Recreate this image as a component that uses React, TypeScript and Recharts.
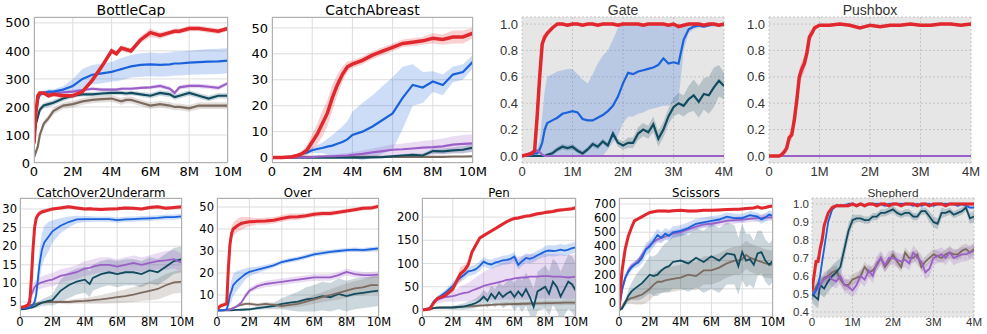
import { ComposedChart, Area, Line, XAxis, YAxis, CartesianGrid } from "recharts";

const RED = "#e0282e";
const BLUE = "#1a62dc";
const PURPLE = "#9b5fc8";
const TEAL = "#114b5f";
const BROWN = "#7d6a5e";

// ---------- BottleCap ----------
const bcX = [0, 0.1, 0.2, 0.3, 0.5, 0.75, 1, 1.5, 2, 2.5, 3, 3.5, 4, 4.25, 4.5, 4.75, 5, 5.5, 6, 6.5, 7, 7.25, 7.5, 8, 8.5, 9, 9.5, 10];
const bcRed = [70, 180, 240, 250, 250, 240, 245, 240, 240, 255, 295, 345, 400, 390, 410, 405, 400, 440, 465, 455, 465, 470, 470, 480, 480, 475, 470, 480];
const bcRedSd = [10, 20, 15, 8, 8, 8, 8, 8, 8, 8, 8, 10, 10, 10, 10, 10, 10, 12, 15, 12, 10, 10, 10, 10, 10, 10, 10, 8];
const bcBlue = [110, 180, 225, 245, 250, 255, 255, 262, 275, 300, 315, 320, 325, 330, 335, 340, 345, 350, 352, 350, 352, 355, 355, 358, 360, 362, 363, 365];
const bcBlueSd = [15, 20, 15, 10, 8, 8, 8, 12, 25, 35, 35, 35, 35, 38, 40, 40, 40, 42, 42, 42, 42, 43, 43, 43, 44, 45, 45, 45];
const bcPurple = [100, 180, 230, 245, 250, 250, 250, 252, 255, 260, 265, 262, 262, 262, 265, 265, 265, 268, 270, 275, 265, 250, 270, 275, 275, 272, 268, 285];
const bcPurpleSd = [10, 15, 10, 6, 6, 6, 6, 6, 6, 6, 6, 6, 6, 6, 6, 6, 6, 6, 6, 8, 8, 8, 8, 8, 8, 8, 8, 8];
const bcTeal = [90, 140, 165, 190, 205, 210, 215, 230, 240, 245, 245, 248, 250, 250, 250, 248, 250, 245, 240, 250, 245, 235, 240, 250, 240, 230, 240, 240];
const bcTealSd = [10, 10, 10, 10, 10, 10, 10, 10, 8, 8, 8, 8, 8, 8, 8, 8, 8, 8, 10, 10, 10, 10, 10, 10, 10, 10, 10, 10];
const bcBrown = [20, 40, 60, 100, 140, 160, 185, 205, 210, 220, 225, 228, 230, 225, 220, 225, 225, 215, 205, 210, 205, 200, 200, 195, 205, 205, 205, 205];
const bcBrownSd = [10, 10, 10, 12, 12, 12, 12, 12, 12, 12, 12, 12, 12, 12, 12, 12, 12, 12, 12, 12, 12, 12, 12, 12, 12, 12, 12, 12];

// ---------- CatchAbreast ----------
const caX = [0, 0.5, 1, 1.25, 1.5, 1.75, 2, 2.25, 2.5, 2.75, 3, 3.25, 3.5, 3.75, 4, 4.5, 5, 5.5, 6, 6.5, 7, 7.5, 8, 8.5, 9, 9.5, 10];
const caRed = [0, 0, 0.3, 0.8, 1.5, 3, 6, 9, 13, 17, 23, 28, 32, 35, 36, 37.5, 39.5, 41, 42.5, 44, 44.5, 45, 46, 45.5, 46.5, 46.5, 48];
const caRedSd = [0, 0, 0.2, 0.5, 1, 2, 3, 4, 5, 5, 5, 4, 3, 2, 1.5, 1.5, 1.5, 1.5, 1.5, 1.5, 1.5, 1.5, 2, 2, 2.5, 2.5, 2];
const caBlue = [0, 0, 0.3, 0.8, 1.5, 2, 2.8, 3.3, 3.7, 4.2, 4.6, 5.3, 6, 7, 8.7, 10, 12, 14.5, 17, 23, 28, 27, 29.3, 28, 32, 33, 37];
const caBlueSd = [0, 0, 0.2, 0.4, 0.6, 0.8, 1, 1.5, 2, 3, 4, 5, 6, 7, 9, 11, 12, 13, 14, 12, 8, 6, 4, 4, 3, 3, 2.5];
const caPurple = [0, 0, 0, 0.1, 0.1, 0.1, 0.2, 0.3, 0.4, 0.5, 0.5, 0.6, 0.7, 0.8, 1, 1.4, 2, 2.5, 3, 3.2, 3.5, 3.8, 4, 4.3, 5, 5.3, 5.5];
const caPurpleSd = [0, 0, 0, 0.1, 0.1, 0.2, 0.3, 0.4, 0.5, 0.6, 0.7, 0.8, 0.9, 1, 1.1, 1.3, 1.5, 1.8, 2, 2.2, 2.4, 2.6, 2.8, 3, 3.2, 3.4, 3.5];
const caTeal = [0, 0, 0, 0, 0, 0, 0, 0, 0, 0, 0, 0, 0, 0, 0, 0, 0.1, 0.2, 0.5, 0.8, 1, 0.8, 2.5, 2.4, 2.8, 3, 3.8];
const caTealSd = [0, 0, 0, 0, 0, 0, 0, 0, 0, 0, 0, 0, 0, 0, 0.1, 0.2, 0.3, 0.4, 0.5, 0.6, 0.7, 0.8, 1, 1.1, 1.2, 1.4, 1.5];
const caBrown = [0, 0.1, 0.3, 0.3, 0.3, 0.3, 0.3, 0.3, 0.3, 0.3, 0.3, 0.3, 0.3, 0.3, 0.3, 0.3, 0.3, 0.3, 0.3, 0.3, 0.3, 0.3, 0.3, 0.3, 0.4, 0.4, 0.5];
const caBrownSd = [0.1, 0.1, 0.1, 0.1, 0.1, 0.1, 0.1, 0.1, 0.1, 0.1, 0.1, 0.1, 0.1, 0.1, 0.1, 0.1, 0.1, 0.1, 0.1, 0.1, 0.1, 0.1, 0.1, 0.1, 0.1, 0.1, 0.1];

// ---------- Gate ----------
const gtX = [0, 0.1, 0.2, 0.25, 0.3, 0.35, 0.4, 0.45, 0.5, 0.6, 0.7, 0.8, 0.9, 1, 1.1, 1.2, 1.3, 1.4, 1.5, 1.6, 1.7, 1.8, 1.9, 2, 2.1, 2.2, 2.3, 2.4, 2.5, 2.6, 2.7, 2.8, 2.9, 3, 3.1, 3.2, 3.3, 3.4, 3.5, 3.6, 3.7, 3.8, 3.9, 4];
const gtRed = [0, 0.01, 0.02, 0.04, 0.3, 0.6, 0.85, 0.9, 0.93, 0.97, 1, 1, 0.99, 1, 1, 0.99, 1, 1, 0.99, 1, 1, 1, 0.99, 1, 1, 1, 1, 0.99, 1, 1, 1, 1, 0.99, 1, 0.98, 0.99, 1, 1, 1, 0.99, 1, 1, 0.99, 1];
const gtRedSd = [0, 0.005, 0.01, 0.03, 0.08, 0.1, 0.06, 0.03, 0.02, 0.01, 0.01, 0.01, 0.01, 0.01, 0.01, 0.01, 0.01, 0.01, 0.01, 0.01, 0.01, 0.01, 0.01, 0.01, 0.01, 0.01, 0.01, 0.01, 0.01, 0.01, 0.01, 0.01, 0.01, 0.01, 0.01, 0.01, 0.01, 0.01, 0.01, 0.01, 0.01, 0.01, 0.01, 0.01];
const gtBlue = [0, 0, 0.01, 0.02, 0.02, 0.05, 0.1, 0.2, 0.25, 0.27, 0.29, 0.32, 0.33, 0.34, 0.33, 0.28, 0.27, 0.27, 0.29, 0.31, 0.34, 0.38, 0.45, 0.55, 0.63, 0.62, 0.64, 0.65, 0.66, 0.67, 0.69, 0.74, 0.7, 0.71, 0.7, 0.88, 0.96, 0.98, 0.99, 0.98, 0.99, 1, 0.99, 1];
const gtBlueLo = [0, 0, 0, 0, 0, 0, 0, 0, 0, 0, 0, 0, 0, 0, 0, 0, 0, 0, 0, 0, 0.05, 0.1, 0.15, 0.25, 0.3, 0.3, 0.32, 0.33, 0.35, 0.36, 0.37, 0.38, 0.38, 0.4, 0.42, 0.8, 0.93, 0.96, 0.97, 0.97, 0.98, 0.98, 0.98, 0.98];
const gtBlueHi = [0, 0.01, 0.02, 0.04, 0.05, 0.12, 0.3, 0.5, 0.6, 0.62, 0.64, 0.65, 0.66, 0.66, 0.62, 0.58, 0.55, 0.62, 0.7, 0.76, 0.8, 0.88, 0.97, 0.99, 1, 1, 1, 1, 1, 1, 1, 1, 1, 1, 1, 1, 1, 1, 1, 1, 1, 1, 1, 1];
const gtTeal = [0, 0, 0, 0, 0, 0, 0, 0, 0.01, 0.02, 0.05, 0.07, 0.06, 0.07, 0.04, 0.02, 0.05, 0.09, 0.07, 0.11, 0.08, 0.17, 0.1, 0.08, 0.1, 0.1, 0.17, 0.2, 0.18, 0.24, 0.13, 0.2, 0.3, 0.37, 0.4, 0.38, 0.43, 0.46, 0.41, 0.47, 0.46, 0.52, 0.57, 0.53];
const gtTealSd = [0.005, 0.005, 0.005, 0.005, 0.005, 0.005, 0.005, 0.005, 0.005, 0.02, 0.02, 0.02, 0.02, 0.02, 0.02, 0.02, 0.02, 0.02, 0.02, 0.02, 0.02, 0.03, 0.03, 0.03, 0.04, 0.04, 0.05, 0.05, 0.05, 0.06, 0.06, 0.06, 0.06, 0.07, 0.08, 0.08, 0.1, 0.12, 0.12, 0.12, 0.14, 0.15, 0.12, 0.1];
const gtPurple = [0, 0.01, 0.03, 0.04, 0.04, 0.03, 0.01, 0, 0, 0, 0, 0, 0, 0, 0, 0, 0, 0, 0, 0, 0, 0, 0, 0, 0, 0, 0, 0, 0, 0, 0, 0, 0, 0, 0, 0, 0, 0, 0, 0, 0, 0, 0, 0];
const gtPurpleSd = [0, 0.01, 0.01, 0.01, 0.01, 0.01, 0.01, 0, 0, 0, 0, 0, 0, 0, 0, 0, 0, 0, 0, 0, 0, 0, 0, 0, 0, 0, 0, 0, 0, 0, 0, 0, 0, 0, 0, 0, 0, 0, 0, 0, 0, 0, 0, 0];

// ---------- Pushbox ----------
const pbX = [0, 0.2, 0.25, 0.3, 0.35, 0.4, 0.45, 0.5, 0.55, 0.6, 0.65, 0.7, 0.75, 0.8, 0.85, 0.9, 1, 1.2, 1.4, 1.6, 1.8, 1.9, 2, 2.2, 2.4, 2.6, 2.8, 3, 3.2, 3.4, 3.6, 3.8, 4];
const pbRed = [0, 0, 0.01, 0.03, 0.06, 0.14, 0.16, 0.27, 0.42, 0.6, 0.66, 0.7, 0.78, 0.9, 0.93, 0.97, 0.99, 0.99, 1, 0.99, 0.97, 0.98, 0.99, 0.98, 0.99, 0.99, 1, 0.99, 0.99, 1, 1, 0.99, 1];
const pbRedSd = [0, 0, 0.005, 0.01, 0.02, 0.03, 0.04, 0.05, 0.06, 0.06, 0.06, 0.06, 0.06, 0.05, 0.03, 0.02, 0.01, 0.01, 0.01, 0.01, 0.01, 0.01, 0.01, 0.01, 0.01, 0.01, 0.01, 0.01, 0.01, 0.01, 0.01, 0.01, 0.01];
const pbPurple = [0, 0, 0, 0, 0, 0, 0, 0, 0, 0, 0, 0, 0, 0, 0, 0, 0, 0, 0, 0, 0, 0, 0, 0, 0, 0, 0, 0, 0, 0, 0, 0, 0];

// ---------- CatchOver2Underarm ----------
const coX = [0, 0.3, 0.5, 0.6, 0.7, 0.8, 0.9, 1, 1.1, 1.2, 1.35, 1.5, 1.75, 2, 2.5, 3, 3.5, 4, 4.3, 4.5, 5, 5.5, 6, 6.5, 7, 7.5, 8, 8.5, 9, 9.5, 10];
const coRed = [3.5, 3.8, 4.2, 5, 11, 19, 25, 27.5, 28.3, 28.8, 29.2, 29.4, 29.7, 30, 30.3, 30.6, 30.3, 30, 30.1, 30, 29.9, 30, 30.1, 30.3, 30.2, 30, 30.4, 30.6, 30.2, 30.4, 30.6];
const coRedSd = [0.3, 0.3, 0.4, 1, 2, 2, 1.5, 1, 0.8, 0.7, 0.6, 0.6, 0.5, 0.5, 0.5, 0.5, 0.5, 0.5, 0.5, 0.5, 0.5, 0.5, 0.5, 0.5, 0.5, 0.5, 0.5, 0.5, 0.5, 0.5, 0.5];
const coBlue = [3.3, 3.4, 3.5, 3.6, 3.8, 4.2, 5, 7, 11, 15, 19, 21, 22.5, 24, 25.5, 26.5, 27.2, 27.3, 27.3, 27.3, 27.3, 27.3, 27, 27.2, 27.3, 27.4, 27.5, 27.6, 27.8, 27.8, 28];
const coBlueSd = [0.3, 0.3, 0.3, 0.3, 0.4, 0.6, 1, 2, 3, 4, 4.5, 4.5, 4, 3, 2, 1.5, 1, 0.8, 0.8, 0.7, 0.7, 0.7, 0.7, 0.7, 0.7, 0.7, 0.7, 0.7, 0.7, 0.7, 0.7];
const coPurple = [3.3, 3.6, 4.5, 6, 7, 8, 9, 9.5, 9.8, 10, 10.3, 10.5, 10.8, 11, 12, 12.5, 13, 14, 14.2, 14.5, 15, 15, 14.5, 15, 15.5, 15, 15.5, 16, 16.2, 16.5, 15.5];
const coPurpleSd = [0.3, 0.4, 0.6, 1, 1.2, 1.4, 1.5, 1.5, 1.5, 1.6, 1.6, 1.7, 1.7, 1.8, 1.8, 1.8, 1.9, 2, 2, 2, 2, 2, 2, 2, 2, 2, 2, 2.2, 2.5, 2.5, 2.5];
const coTeal = [3, 3.1, 3.3, 3.4, 3.5, 3.6, 3.8, 4, 4.3, 4.5, 4.8, 5, 5.3, 5.5, 8, 9.5, 10.5, 11, 9.8, 11.5, 12.5, 13, 12.5, 13, 13, 12.5, 13.5, 13, 14.5, 16, 16.5];
const coTealSd = [0.2, 0.2, 0.3, 0.3, 0.4, 0.4, 0.5, 0.6, 0.7, 0.8, 0.9, 1, 1.2, 1.5, 3, 3.5, 3.5, 3.5, 3.5, 3.5, 3.5, 3.5, 3.5, 3.5, 3.5, 3.5, 3.5, 3.5, 3.5, 3.5, 3.5];
const coBrown = [3.5, 3.7, 4, 4.1, 4.2, 4.3, 4.4, 4.5, 4.6, 4.7, 4.8, 4.9, 5, 5, 5, 5, 5.2, 5.3, 5.4, 5.5, 5.7, 6, 6.3, 6.6, 7, 7.5, 8, 8.5, 9.5, 10.3, 10.5];
const coBrownSd = [0.3, 0.3, 0.3, 0.3, 0.3, 0.3, 0.3, 0.3, 0.3, 0.3, 0.3, 0.3, 0.3, 0.3, 0.5, 0.6, 0.7, 0.8, 0.9, 1, 1.2, 1.4, 1.6, 1.8, 2, 2.2, 2.5, 2.8, 3, 3, 3];

// ---------- Over ----------
const ovX = [0, 0.2, 0.4, 0.6, 0.7, 0.8, 0.9, 1, 1.25, 1.5, 1.75, 2, 2.5, 3, 3.5, 4, 4.5, 5, 5.5, 6, 6.5, 7, 7.5, 8, 8.5, 9, 9.5, 10];
const ovRed = [3.5, 5, 5.5, 6, 22, 33, 38, 40, 41.5, 42.5, 43, 43.3, 43.5, 43.6, 44, 44.8, 45.5, 45.6, 46, 46.7, 47, 47.1, 47.6, 48.2, 48.8, 49.4, 49.5, 50.4];
const ovRedSd = [1, 1, 1, 1, 3, 3, 3, 3, 3, 3, 2.5, 2, 1.5, 1.5, 1.5, 1.5, 1.5, 1.5, 1.2, 1.2, 1.2, 1.2, 1, 1, 1, 1, 1, 1];
const ovBlue = [3, 3, 3.1, 3.5, 6, 10, 12, 14.5, 16.5, 18, 19.5, 20.5, 21.5, 22.5, 23.5, 25, 25.8, 26.5, 27.5, 28.5, 29, 29.6, 30, 30.4, 30.6, 30.4, 30.8, 31.2];
const ovBlueSd = [0.3, 0.3, 0.3, 0.5, 2, 4, 5, 5, 4.5, 3.5, 2.5, 2, 1.5, 1.2, 1, 1, 1, 1, 1, 1, 1, 1, 1, 1, 1, 1, 1, 1];
const ovPurple = [3, 3, 3, 3.2, 3.3, 3.4, 3.6, 4, 5, 6.5, 9.5, 12, 14, 15, 15.5, 16, 16.5, 17, 17.5, 18, 18, 18, 19, 20.5, 19.5, 19, 19, 19.3];
const ovPurpleSd = [0.3, 0.3, 0.3, 0.3, 0.3, 0.4, 0.5, 0.6, 0.8, 1, 1.2, 1.3, 1.4, 1.5, 1.5, 1.5, 1.5, 1.5, 1.5, 1.5, 1.5, 1.5, 1.5, 1.5, 1.5, 1.5, 1.5, 1.5];
const ovTeal = [3, 3, 3, 3, 3, 3, 3, 3.1, 3.2, 3.3, 3.4, 3.5, 4, 4.5, 5, 6, 6.5, 7, 8, 8.5, 9.5, 9, 10.5, 9.5, 10.5, 11, 11.5, 12];
const ovTealSd = [0.2, 0.2, 0.2, 0.2, 0.2, 0.2, 0.2, 0.2, 0.3, 0.4, 0.5, 0.6, 0.8, 1, 1.5, 2.5, 3.5, 4.5, 5.5, 6, 6.5, 6.5, 7, 7, 7, 7, 7, 7];
const ovBrown = [3, 3, 3, 3.2, 3.4, 3.6, 3.8, 4, 5, 5.5, 6, 6, 5.5, 6, 5.5, 5, 5.5, 6, 7, 8, 9, 10, 11, 12, 13, 13.5, 14.5, 14.5];
const ovBrownSd = [0.3, 0.3, 0.3, 0.3, 0.3, 0.3, 0.3, 0.3, 0.5, 0.6, 0.7, 0.8, 0.8, 0.9, 1, 1, 1.2, 1.5, 1.8, 2, 2.3, 2.6, 3, 3.2, 3.4, 3.6, 3.8, 4];

// ---------- Pen ----------
const pnX = [0, 0.5, 0.75, 1, 1.5, 2, 2.25, 2.5, 2.75, 3, 3.25, 3.5, 3.75, 4, 4.25, 4.5, 4.75, 5, 5.25, 5.5, 5.75, 6, 6.25, 6.5, 6.75, 7, 7.25, 7.5, 7.75, 8, 8.25, 8.5, 8.75, 9, 9.25, 9.5, 9.75, 10];
const pnRed = [0, 2, 15, 25, 31, 45, 62, 78, 85, 97, 125, 140, 155, 160, 165, 170, 175, 180, 185, 190, 194, 197, 198, 200, 202, 203, 205, 207, 208, 210, 211, 212, 214, 215, 216, 217, 218, 220];
const pnRedSd = [0, 1, 3, 4, 5, 6, 8, 15, 12, 8, 6, 5, 4, 4, 4, 4, 4, 4, 4, 4, 4, 4, 4, 4, 4, 4, 4, 4, 4, 4, 4, 4, 4, 4, 4, 4, 4, 5];
const pnBlue = [0, 3, 18, 25, 37, 52, 62, 70, 76, 83, 85, 88, 95, 104, 100, 98, 102, 104, 107, 108, 110, 115, 97, 105, 112, 110, 113, 118, 122, 126, 128, 127, 128, 130, 128, 130, 133, 135];
const pnBlueSd = [0, 2, 4, 5, 6, 8, 9, 10, 10, 10, 10, 10, 10, 10, 10, 10, 10, 10, 10, 10, 10, 10, 10, 10, 10, 10, 10, 10, 10, 12, 12, 12, 12, 12, 12, 12, 12, 12];
const pnPurple = [0, 5, 15, 22, 28, 30, 32, 35, 37, 38, 42, 45, 48, 52, 54, 56, 58, 60, 62, 65, 66, 68, 69, 70, 70, 72, 72, 72, 73, 73, 73, 72, 72, 72, 71, 70, 71, 72];
const pnPurpleSd = [0, 3, 6, 8, 10, 12, 14, 16, 18, 20, 22, 25, 28, 30, 32, 34, 36, 38, 40, 42, 44, 45, 46, 47, 48, 48, 48, 48, 48, 48, 48, 48, 48, 48, 48, 48, 48, 48];
const pnTeal = [0, 2, 4, 5, 5, 5, 6, 7, 8, 10, 12, 15, 20, 29, 20, 35, 25, 38, 28, 35, 40, 28, 40, 30, 45, 28, 7, 40, 45, 50, 35, 61, 50, 29, 45, 61, 55, 40];
const pnTealSd = [0, 1, 2, 3, 3, 4, 5, 6, 7, 8, 9, 10, 12, 14, 16, 18, 20, 22, 24, 26, 28, 30, 32, 34, 36, 38, 40, 42, 44, 46, 48, 50, 52, 54, 56, 58, 60, 60];
const pnBrown = [0, 2, 4, 5, 5.5, 6, 6.5, 7, 7.5, 8, 8.5, 9, 9.5, 10, 10.5, 11, 11.5, 12, 12, 12.5, 12.5, 13, 13, 13.5, 13.5, 14, 14, 14.5, 14.5, 15, 15, 15, 15.5, 15.5, 16, 16, 16, 16];
const pnBrownSd = [0, 1, 2, 2, 2, 2, 2, 2, 2, 3, 3, 3, 3, 3, 3, 3, 3, 3, 4, 4, 4, 4, 4, 4, 4, 4, 4, 4, 4, 5, 5, 5, 5, 5, 5, 5, 5, 5];

// ---------- Scissors ----------
const scX = [0, 0.2, 0.4, 0.6, 0.8, 1, 1.25, 1.5, 1.75, 2, 2.25, 2.5, 2.75, 3, 3.25, 3.5, 4, 4.5, 5, 5.5, 6, 6.5, 7, 7.5, 7.75, 8, 8.25, 8.5, 8.75, 9, 9.25, 9.5, 9.75, 10];
const scRed = [-40, 230, 380, 470, 530, 580, 595, 610, 625, 640, 645, 650, 650, 650, 648, 652, 655, 650, 650, 655, 655, 658, 660, 662, 662, 665, 668, 670, 672, 680, 670, 675, 682, 685];
const scRedSd = [10, 30, 30, 25, 20, 15, 12, 12, 12, 10, 10, 10, 10, 10, 10, 10, 10, 10, 10, 10, 10, 10, 10, 10, 10, 10, 10, 10, 10, 10, 10, 10, 10, 10];
const scBlue = [-45, 100, 180, 220, 250, 270, 285, 320, 380, 400, 440, 480, 460, 490, 475, 500, 510, 530, 560, 570, 580, 590, 610, 600, 600, 600, 610, 620, 615, 610, 590, 605, 625, 615];
const scBlueSd = [5, 20, 25, 25, 25, 25, 30, 40, 45, 45, 45, 45, 40, 40, 40, 40, 40, 40, 35, 35, 35, 30, 30, 30, 30, 30, 30, 30, 30, 30, 30, 30, 30, 30];
const scPurple = [-45, 90, 170, 230, 260, 275, 300, 340, 380, 410, 430, 450, 460, 470, 480, 490, 500, 520, 540, 555, 560, 570, 580, 585, 588, 590, 592, 595, 598, 600, 602, 605, 605, 605];
const scPurpleSd = [5, 20, 20, 20, 20, 20, 20, 25, 25, 25, 25, 25, 25, 25, 25, 25, 25, 25, 25, 25, 25, 25, 25, 25, 25, 25, 25, 25, 25, 25, 25, 25, 25, 25];
const scTeal = [-50, -40, 0, 50, 80, 100, 120, 140, 170, 200, 190, 200, 230, 250, 260, 290, 300, 280, 320, 290, 330, 300, 350, 340, 260, 360, 300, 310, 270, 350, 360, 300, 270, 300];
const scTealSd = [5, 10, 20, 40, 60, 80, 100, 110, 120, 130, 140, 150, 160, 170, 180, 190, 200, 200, 210, 220, 230, 230, 220, 210, 200, 200, 190, 180, 170, 160, 150, 150, 150, 150];
const scBrown = [-50, -30, 10, 25, 35, 40, 50, 60, 80, 100, 130, 150, 150, 160, 165, 170, 180, 200, 190, 230, 230, 250, 280, 300, 300, 310, 340, 320, 310, 300, 290, 280, 275, 270];
const scBrownSd = [5, 10, 20, 30, 40, 50, 60, 70, 80, 80, 80, 80, 80, 90, 90, 90, 90, 100, 100, 100, 100, 100, 100, 100, 100, 100, 100, 100, 100, 100, 100, 100, 100, 100];

// ---------- Shepherd ----------
const shX = [0, 0.05, 0.1, 0.15, 0.2, 0.25, 0.3, 0.4, 0.5, 0.6, 0.7, 0.8, 0.9, 1, 1.1, 1.2, 1.3, 1.4, 1.5, 1.6, 1.7, 1.8, 1.9, 2, 2.1, 2.2, 2.3, 2.4, 2.5, 2.6, 2.7, 2.8, 2.9, 3, 3.1, 3.2, 3.3, 3.4, 3.5, 3.6, 3.7, 3.8, 3.9, 4];
const shRed = [0.52, 0.6, 0.68, 0.68, 0.75, 0.8, 0.88, 0.95, 0.98, 0.99, 0.99, 0.99, 0.99, 1, 0.99, 1, 0.99, 1, 1, 0.99, 1, 1, 0.99, 1, 1, 0.99, 1, 1, 1, 0.99, 1, 1, 0.99, 1, 1, 1, 0.99, 1, 1, 1, 1, 1, 1, 1];
const shRedSd = [0.02, 0.02, 0.02, 0.02, 0.02, 0.02, 0.02, 0.01, 0.01, 0.01, 0.01, 0.01, 0.01, 0.01, 0.01, 0.01, 0.01, 0.01, 0.01, 0.01, 0.01, 0.01, 0.01, 0.01, 0.01, 0.01, 0.01, 0.01, 0.01, 0.01, 0.01, 0.01, 0.01, 0.01, 0.01, 0.01, 0.01, 0.01, 0.01, 0.01, 0.01, 0.01, 0.01, 0.01];
const shBlue = [0.5, 0.5, 0.52, 0.55, 0.6, 0.68, 0.75, 0.9, 0.97, 0.99, 0.99, 0.99, 1, 1, 0.99, 1, 0.99, 1, 1, 1, 1, 0.99, 1, 1, 1, 1, 1, 1, 0.99, 1, 0.99, 1, 1, 0.99, 1, 1, 1, 1, 1, 0.99, 1, 0.99, 0.98, 0.98];
const shBlueSd = [0.02, 0.02, 0.02, 0.02, 0.02, 0.02, 0.02, 0.01, 0.01, 0.01, 0.01, 0.01, 0.01, 0.01, 0.01, 0.01, 0.01, 0.01, 0.01, 0.01, 0.01, 0.01, 0.01, 0.01, 0.01, 0.01, 0.01, 0.01, 0.01, 0.01, 0.01, 0.01, 0.01, 0.01, 0.01, 0.01, 0.01, 0.01, 0.01, 0.01, 0.01, 0.01, 0.01, 0.01];
const shTeal = [0.5, 0.49, 0.48, 0.47, 0.55, 0.54, 0.53, 0.57, 0.6, 0.62, 0.65, 0.75, 0.85, 0.91, 0.92, 0.92, 0.91, 0.91, 0.93, 0.93, 0.95, 0.95, 0.96, 0.97, 0.95, 0.94, 0.95, 0.95, 0.93, 0.93, 0.96, 0.96, 0.93, 0.9, 0.89, 0.95, 0.95, 0.96, 0.94, 0.95, 0.96, 0.98, 0.92, 0.93];
const shTealSd = [0.04, 0.05, 0.05, 0.05, 0.05, 0.05, 0.05, 0.06, 0.06, 0.06, 0.05, 0.05, 0.04, 0.03, 0.02, 0.02, 0.02, 0.02, 0.02, 0.02, 0.02, 0.02, 0.02, 0.02, 0.02, 0.02, 0.02, 0.02, 0.02, 0.02, 0.02, 0.02, 0.03, 0.03, 0.03, 0.03, 0.02, 0.02, 0.02, 0.02, 0.02, 0.02, 0.03, 0.03];
const shPurple = [0.5, 0.51, 0.52, 0.53, 0.55, 0.57, 0.58, 0.6, 0.58, 0.57, 0.6, 0.55, 0.54, 0.52, 0.55, 0.6, 0.58, 0.63, 0.6, 0.67, 0.7, 0.66, 0.7, 0.7, 0.69, 0.68, 0.69, 0.67, 0.73, 0.7, 0.68, 0.62, 0.64, 0.7, 0.71, 0.72, 0.7, 0.73, 0.7, 0.71, 0.72, 0.72, 0.73, 0.74];
const shPurpleSd = [0.03, 0.03, 0.03, 0.03, 0.03, 0.03, 0.03, 0.04, 0.04, 0.04, 0.04, 0.04, 0.04, 0.04, 0.04, 0.04, 0.04, 0.04, 0.04, 0.04, 0.04, 0.04, 0.04, 0.04, 0.04, 0.04, 0.04, 0.04, 0.04, 0.04, 0.04, 0.04, 0.04, 0.04, 0.04, 0.04, 0.04, 0.04, 0.04, 0.04, 0.04, 0.04, 0.04, 0.04];
const shBrown = [0.5, 0.52, 0.54, 0.56, 0.55, 0.57, 0.59, 0.6, 0.62, 0.63, 0.58, 0.55, 0.55, 0.58, 0.59, 0.6, 0.65, 0.62, 0.63, 0.66, 0.7, 0.65, 0.68, 0.72, 0.68, 0.65, 0.73, 0.7, 0.7, 0.72, 0.65, 0.68, 0.7, 0.72, 0.71, 0.7, 0.72, 0.73, 0.72, 0.72, 0.74, 0.75, 0.73, 0.75];
const shBrownSd = [0.03, 0.03, 0.03, 0.03, 0.03, 0.03, 0.03, 0.03, 0.03, 0.03, 0.03, 0.03, 0.03, 0.03, 0.03, 0.03, 0.03, 0.03, 0.03, 0.03, 0.03, 0.03, 0.03, 0.03, 0.03, 0.03, 0.03, 0.03, 0.03, 0.03, 0.03, 0.03, 0.03, 0.03, 0.03, 0.03, 0.03, 0.03, 0.03, 0.03, 0.03, 0.03, 0.03, 0.03];

const ticks10 = [0, 2, 4, 6, 8, 10];
const ticks4 = [0, 1, 2, 3, 4];

type Series = {
  key: string;
  color: string;
  mean: number[];
  sd?: number[];
  lo?: number[];
  hi?: number[];
};

type PanelProps = {
  title: string;
  xs: number[];
  series: Series[];
  left: number;
  right: number;
  top: number;
  bottom: number;
  yDomain: [number, number];
  yTicks: number[];
  xMax: number;
  xTicks: number[];
  gray?: boolean;
  big?: boolean;
  decimals?: number;
};

function Panel(p: PanelProps) {
  const yW = 44;
  const mt = 4;
  const mr = 18;
  const xh = 22;
  const w = p.right - p.left;
  const h = p.bottom - p.top;
  const fontFamily = p.gray ? "Liberation Sans" : "DejaVu Sans";
  const fontSize = p.big ? 13 : 11.5;
  const titleSize = p.big ? 14 : 11.8;
  const textColor = p.gray ? "#333" : "#000";
  const thick = p.big ? 3.5 : 3;
  const thin = p.big ? 2.2 : 1.8;

  const data = p.xs.map((x, i) => {
    const row: Record<string, number | number[]> = { x };
    p.series.forEach((s) => {
      row[s.key] = s.mean[i];
      const lo = s.lo ? s.lo[i] : s.mean[i] - (s.sd ? s.sd[i] : 0);
      const hi = s.hi ? s.hi[i] : s.mean[i] + (s.sd ? s.sd[i] : 0);
      row[s.key + "Band"] = [lo, hi];
    });
    return row;
  });

  const titleCenter = p.big ? 9.5 : 193;

  return (
    <>
      <div
        style={{
          position: "absolute",
          left: p.left - 40,
          width: w + 80,
          top: titleCenter - 10,
          height: 20,
          lineHeight: "20px",
          textAlign: "center",
          fontFamily,
          fontSize: titleSize,
          color: textColor,
          whiteSpace: "nowrap",
        }}
      >
        {p.title}
      </div>
      <div style={{ position: "absolute", left: p.left - yW, top: p.top - mt }}>
        <ComposedChart
          width={yW + w + mr}
          height={mt + h + xh}
          data={data}
          margin={{ top: mt, right: mr, bottom: 0, left: 0 }}
        >
          <CartesianGrid
            stroke={p.gray ? "#c4c4c4" : "#dddddd"}
            strokeDasharray={p.gray ? "2 2" : undefined}
            fill={p.gray ? "#e6e6e6" : "#ffffff"}
            fillOpacity={1}
          />
          <XAxis
            dataKey="x"
            type="number"
            domain={[0, p.xMax]}
            ticks={p.xTicks}
            interval={0}
            allowDataOverflow
            axisLine={false}
            tickLine={false}
            tickSize={0}
            tickMargin={p.big ? 4 : 1}
            height={xh}
            tick={{ fontSize, fontFamily, fill: textColor }}
            tickFormatter={(v: number) => (v === 0 ? "0" : v + "M")}
          />
          <YAxis
            type="number"
            domain={p.yDomain}
            ticks={p.yTicks}
            interval={0}
            allowDataOverflow
            axisLine={false}
            tickLine={false}
            tickSize={0}
            tickMargin={p.big ? 4 : 3}
            width={yW}
            tick={{ fontSize, fontFamily, fill: textColor }}
            tickFormatter={(v: number) => (p.decimals ? v.toFixed(p.decimals) : String(v))}
          />
          {p.series.map((s) => (
            <Area
              key={s.key + "Band"}
              type="linear"
              dataKey={s.key + "Band"}
              stroke="none"
              fill={s.color}
              fillOpacity={0.22}
              isAnimationActive={false}
              activeDot={false}
            />
          ))}
          {p.series.map((s) => (
            <Line
              key={s.key}
              type="linear"
              dataKey={s.key}
              stroke={s.color}
              strokeWidth={s.color === RED ? thick : thin}
              dot={false}
              activeDot={false}
              isAnimationActive={false}
            />
          ))}
        </ComposedChart>
      </div>
      {!p.gray && (
        <div
          style={{
            position: "absolute",
            left: p.left,
            top: p.top,
            width: w,
            height: h,
            border: "1px solid #b0b0b0",
            boxSizing: "border-box",
            pointerEvents: "none",
          }}
        />
      )}
    </>
  );
}

export default function App() {
  return (
    <div style={{ position: "absolute", left: 0, top: 0, width: 987, height: 334, background: "#fff" }}>
      <Panel
        title="BottleCap"
        big
        xs={bcX}
        left={34}
        right={228}
        top={17}
        bottom={163}
        yDomain={[0, 521]}
        yTicks={[0, 100, 200, 300, 400, 500]}
        xMax={10}
        xTicks={ticks10}
        series={[
          { key: "brown", color: BROWN, mean: bcBrown, sd: bcBrownSd },
          { key: "teal", color: TEAL, mean: bcTeal, sd: bcTealSd },
          { key: "purple", color: PURPLE, mean: bcPurple, sd: bcPurpleSd },
          { key: "blue", color: BLUE, mean: bcBlue, sd: bcBlueSd },
          { key: "red", color: RED, mean: bcRed, sd: bcRedSd },
        ]}
      />
      <Panel
        title="CatchAbreast"
        big
        xs={caX}
        left={272}
        right={473}
        top={17}
        bottom={163}
        yDomain={[-2.1, 54.2]}
        yTicks={[0, 10, 20, 30, 40, 50]}
        xMax={10}
        xTicks={ticks10}
        series={[
          { key: "brown", color: BROWN, mean: caBrown, sd: caBrownSd },
          { key: "teal", color: TEAL, mean: caTeal, sd: caTealSd },
          { key: "blue", color: BLUE, mean: caBlue, sd: caBlueSd },
          { key: "purple", color: PURPLE, mean: caPurple, sd: caPurpleSd },
          { key: "red", color: RED, mean: caRed, sd: caRedSd },
        ]}
      />
      <Panel
        title="Gate"
        big
        gray
        decimals={1}
        xs={gtX}
        left={522}
        right={724}
        top={17}
        bottom={163}
        yDomain={[-0.053, 1.053]}
        yTicks={[0, 0.2, 0.4, 0.6, 0.8, 1]}
        xMax={4}
        xTicks={ticks4}
        series={[
          { key: "teal", color: TEAL, mean: gtTeal, sd: gtTealSd },
          { key: "blue", color: BLUE, mean: gtBlue, lo: gtBlueLo, hi: gtBlueHi },
          { key: "purple", color: PURPLE, mean: gtPurple, sd: gtPurpleSd },
          { key: "red", color: RED, mean: gtRed, sd: gtRedSd },
        ]}
      />
      <Panel
        title="Pushbox"
        big
        gray
        decimals={1}
        xs={pbX}
        left={769}
        right={971}
        top={17}
        bottom={163}
        yDomain={[-0.053, 1.053]}
        yTicks={[0, 0.2, 0.4, 0.6, 0.8, 1]}
        xMax={4}
        xTicks={ticks4}
        series={[
          { key: "purple", color: PURPLE, mean: pbPurple },
          { key: "red", color: RED, mean: pbRed, sd: pbRedSd },
        ]}
      />
      <Panel
        title="CatchOver2Underarm"
        xs={coX}
        left={20}
        right={182}
        top={198}
        bottom={317}
        yDomain={[0.97, 32.96]}
        yTicks={[5, 10, 15, 20, 25, 30]}
        xMax={10}
        xTicks={ticks10}
        series={[
          { key: "brown", color: BROWN, mean: coBrown, sd: coBrownSd },
          { key: "teal", color: TEAL, mean: coTeal, sd: coTealSd },
          { key: "purple", color: PURPLE, mean: coPurple, sd: coPurpleSd },
          { key: "blue", color: BLUE, mean: coBlue, sd: coBlueSd },
          { key: "red", color: RED, mean: coRed, sd: coRedSd },
        ]}
      />
      <Panel
        title="Over"
        xs={ovX}
        left={217}
        right={379}
        top={198}
        bottom={317}
        yDomain={[0, 54.1]}
        yTicks={[10, 20, 30, 40, 50]}
        xMax={10}
        xTicks={ticks10}
        series={[
          { key: "teal", color: TEAL, mean: ovTeal, sd: ovTealSd },
          { key: "brown", color: BROWN, mean: ovBrown, sd: ovBrownSd },
          { key: "purple", color: PURPLE, mean: ovPurple, sd: ovPurpleSd },
          { key: "blue", color: BLUE, mean: ovBlue, sd: ovBlueSd },
          { key: "red", color: RED, mean: ovRed, sd: ovRedSd },
        ]}
      />
      <Panel
        title="Pen"
        xs={pnX}
        left={422}
        right={576}
        top={198}
        bottom={317}
        yDomain={[-15, 241]}
        yTicks={[0, 50, 100, 150, 200]}
        xMax={10}
        xTicks={ticks10}
        series={[
          { key: "brown", color: BROWN, mean: pnBrown, sd: pnBrownSd },
          { key: "teal", color: TEAL, mean: pnTeal, sd: pnTealSd },
          { key: "purple", color: PURPLE, mean: pnPurple, sd: pnPurpleSd },
          { key: "blue", color: BLUE, mean: pnBlue, sd: pnBlueSd },
          { key: "red", color: RED, mean: pnRed, sd: pnRedSd },
        ]}
      />
      <Panel
        title="Scissors"
        xs={scX}
        left={619}
        right={773}
        top={198}
        bottom={317}
        yDomain={[-99, 742]}
        yTicks={[0, 100, 200, 300, 400, 500, 600, 700]}
        xMax={10}
        xTicks={ticks10}
        series={[
          { key: "brown", color: BROWN, mean: scBrown, sd: scBrownSd },
          { key: "teal", color: TEAL, mean: scTeal, sd: scTealSd },
          { key: "purple", color: PURPLE, mean: scPurple, sd: scPurpleSd },
          { key: "blue", color: BLUE, mean: scBlue, sd: scBlueSd },
          { key: "red", color: RED, mean: scRed, sd: scRedSd },
        ]}
      />
      <Panel
        title="Shepherd"
        gray
        decimals={1}
        xs={shX}
        left={812}
        right={974}
        top={198}
        bottom={317}
        yDomain={[0.372, 1.033]}
        yTicks={[0.4, 0.5, 0.6, 0.7, 0.8, 0.9, 1]}
        xMax={4}
        xTicks={ticks4}
        series={[
          { key: "brown", color: BROWN, mean: shBrown, sd: shBrownSd },
          { key: "teal", color: TEAL, mean: shTeal, sd: shTealSd },
          { key: "purple", color: PURPLE, mean: shPurple, sd: shPurpleSd },
          { key: "blue", color: BLUE, mean: shBlue, sd: shBlueSd },
          { key: "red", color: RED, mean: shRed, sd: shRedSd },
        ]}
      />
    </div>
  );
}
